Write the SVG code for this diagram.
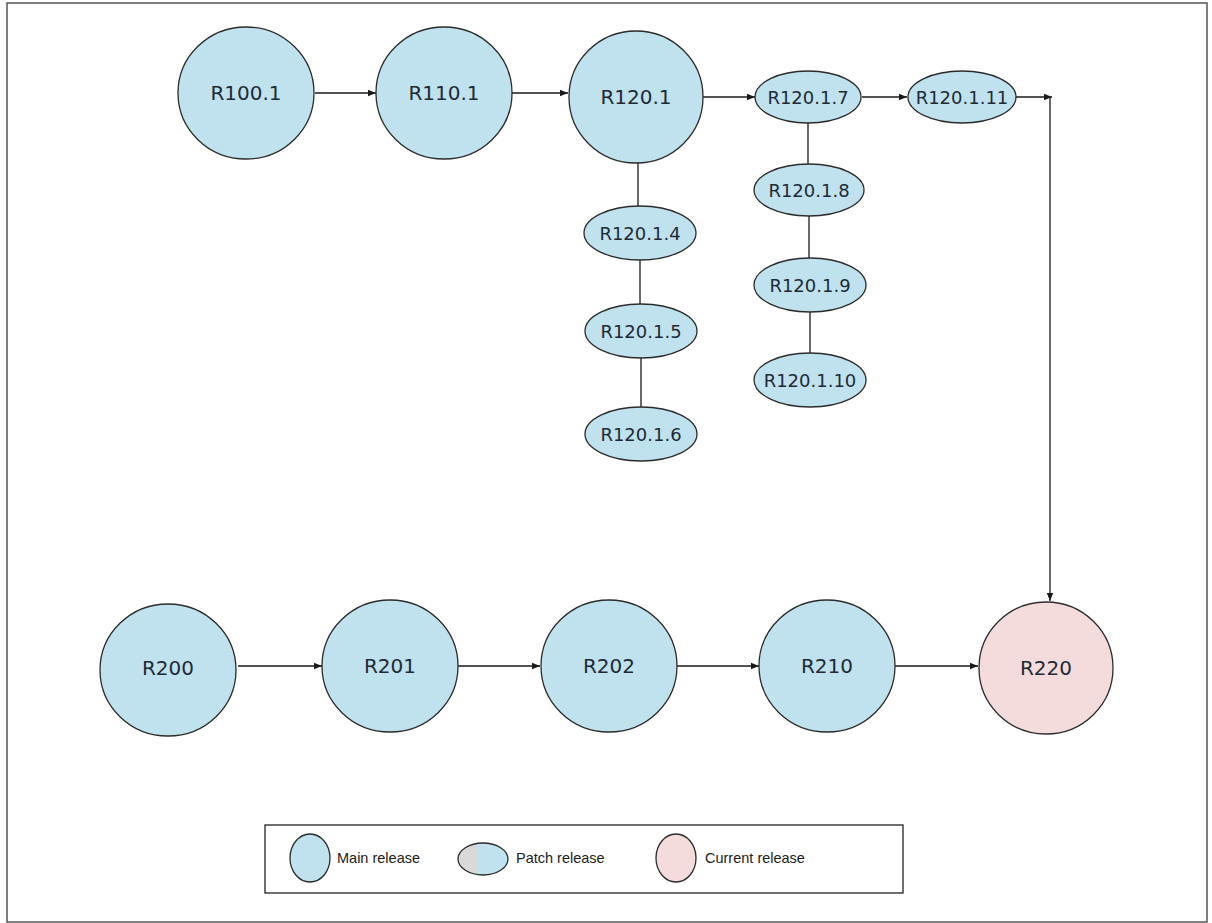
<svg xmlns="http://www.w3.org/2000/svg" width="1212" height="923" viewBox="0 0 1212 923">
<style>
.main{fill:#c0e2ee;stroke:#2b2b2b;stroke-width:1.3}
.cur{fill:#f3dcdb;stroke:#2b2b2b;stroke-width:1.3}
.lbl{font-family:"DejaVu Sans",Verdana,sans-serif;font-size:20px;fill:#1e2a36;text-anchor:middle;dominant-baseline:central}
.plbl{font-family:"DejaVu Sans",Verdana,sans-serif;font-size:18px;fill:#1e2a36;text-anchor:middle;dominant-baseline:central}
.leg{font-family:"Liberation Sans",Arial,sans-serif;font-size:14.5px;fill:#222;dominant-baseline:central}
.ln{stroke:#1a1a1a;stroke-width:1.3;fill:none}
</style>
<defs>
<marker id="ah" viewBox="0 0 10 10" refX="10" refY="5" markerWidth="8" markerHeight="8" markerUnits="userSpaceOnUse" orient="auto"><path d="M0,1 L10,5 L0,9 z" fill="#1a1a1a"/></marker>
<linearGradient id="pg" x1="0" y1="0" x2="1" y2="0"><stop offset="0" stop-color="#d9d9d9"/><stop offset="0.4" stop-color="#d9d9d9"/><stop offset="0.4" stop-color="#c0e2ee"/><stop offset="1" stop-color="#c0e2ee"/></linearGradient>
</defs>
<rect width="1212" height="923" fill="#ffffff"/>
<rect x="7" y="3" width="1200" height="919" fill="none" stroke="#555" stroke-width="1.5"/>

<g id="connectors">
<line class="ln" x1="315" y1="93" x2="376" y2="93" marker-end="url(#ah)"/>
<line class="ln" x1="512" y1="93" x2="568" y2="93" marker-end="url(#ah)"/>
<line class="ln" x1="703" y1="97" x2="755" y2="97" marker-end="url(#ah)"/>
<line class="ln" x1="862" y1="97" x2="907" y2="97" marker-end="url(#ah)"/>
<line class="ln" x1="1016" y1="97" x2="1052" y2="97" marker-end="url(#ah)"/>
<line class="ln" x1="1050" y1="97" x2="1050" y2="601" marker-end="url(#ah)"/>
<line class="ln" x1="638" y1="163" x2="638" y2="206"/>
<line class="ln" x1="640" y1="260" x2="640" y2="304"/>
<line class="ln" x1="641" y1="358" x2="641" y2="407"/>
<line class="ln" x1="808" y1="123" x2="808" y2="164"/>
<line class="ln" x1="809" y1="216" x2="809" y2="258"/>
<line class="ln" x1="810" y1="311" x2="810" y2="353"/>
<line class="ln" x1="238" y1="666" x2="322" y2="666" marker-end="url(#ah)"/>
<line class="ln" x1="458" y1="666" x2="540" y2="666" marker-end="url(#ah)"/>
<line class="ln" x1="677" y1="666" x2="759" y2="666" marker-end="url(#ah)"/>
<line class="ln" x1="895" y1="666" x2="978" y2="666" marker-end="url(#ah)"/>
</g>

<g id="R100.1"><ellipse class="main" cx="246" cy="93" rx="68" ry="66"/><text class="lbl" x="246" y="93">R100.1</text></g>
<g id="R110.1"><ellipse class="main" cx="444" cy="93" rx="68" ry="66"/><text class="lbl" x="444" y="93">R110.1</text></g>
<g id="R120.1"><ellipse class="main" cx="636" cy="97" rx="67" ry="66"/><text class="lbl" x="636" y="97">R120.1</text></g>

<g id="R120.1.7"><ellipse class="main" cx="808" cy="97" rx="53" ry="26"/><text class="plbl" x="808" y="97">R120.1.7</text></g>
<g id="R120.1.11"><ellipse class="main" cx="962" cy="97" rx="54" ry="26"/><text class="plbl" x="962" y="97">R120.1.11</text></g>
<g id="R120.1.8"><ellipse class="main" cx="809" cy="190" rx="55" ry="26"/><text class="plbl" x="809" y="190">R120.1.8</text></g>
<g id="R120.1.9"><ellipse class="main" cx="810" cy="285" rx="56" ry="27"/><text class="plbl" x="810" y="285">R120.1.9</text></g>
<g id="R120.1.10"><ellipse class="main" cx="810" cy="380" rx="56" ry="27"/><text class="plbl" x="810" y="380">R120.1.10</text></g>

<g id="R120.1.4"><ellipse class="main" cx="640" cy="233" rx="56" ry="27"/><text class="plbl" x="640" y="233">R120.1.4</text></g>
<g id="R120.1.5"><ellipse class="main" cx="641" cy="331" rx="56" ry="27"/><text class="plbl" x="641" y="331">R120.1.5</text></g>
<g id="R120.1.6"><ellipse class="main" cx="641" cy="434" rx="56" ry="27"/><text class="plbl" x="641" y="434">R120.1.6</text></g>

<g id="R200"><ellipse class="main" cx="168" cy="670" rx="68" ry="66"/><text class="lbl" x="168" y="668">R200</text></g>
<g id="R201"><ellipse class="main" cx="390" cy="666" rx="68" ry="66"/><text class="lbl" x="390" y="666">R201</text></g>
<g id="R202"><ellipse class="main" cx="609" cy="666" rx="68" ry="66"/><text class="lbl" x="609" y="666">R202</text></g>
<g id="R210"><ellipse class="main" cx="827" cy="666" rx="68" ry="66"/><text class="lbl" x="827" y="666">R210</text></g>
<g id="R220"><ellipse class="cur" cx="1046" cy="668" rx="67" ry="66"/><text class="lbl" x="1046" y="668">R220</text></g>

<g id="legend">
<rect x="265" y="825" width="638" height="68" fill="#ffffff" stroke="#222" stroke-width="1.3"/>
<ellipse class="main" cx="310" cy="858" rx="20" ry="24"/>
<text class="leg" x="337" y="858">Main release</text>
<ellipse cx="483" cy="859" rx="25" ry="16" fill="url(#pg)" stroke="#2b2b2b" stroke-width="1.3"/>
<text class="leg" x="516" y="858">Patch release</text>
<ellipse class="cur" cx="676" cy="858" rx="20" ry="24"/>
<text class="leg" x="705" y="858">Current release</text>
</g>
</svg>
